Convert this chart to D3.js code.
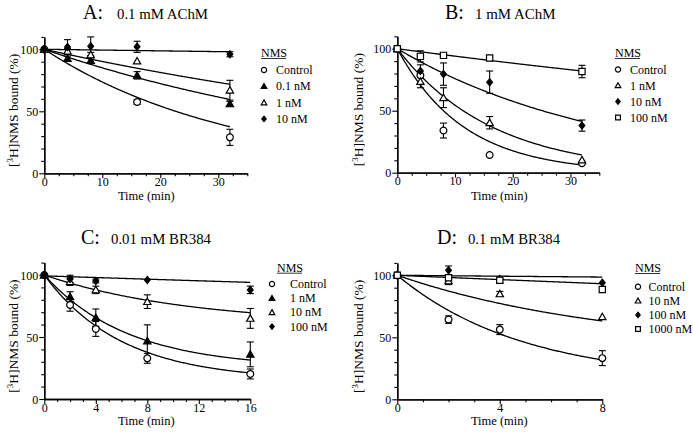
<!DOCTYPE html>
<html><head><meta charset="utf-8">
<script src="https://cdn.jsdelivr.net/npm/d3@7"></script>
<style>
body{margin:0;background:#fff}
svg{display:block}
text{font-family:"Liberation Serif","Times New Roman",serif;fill:#000}
</style>
</head><body>
<svg id="chart" width="693" height="433"></svg>
<script>
// ---------------- DATA ----------------
const yTickLabels = [0, 50, 100];

// Panel A: 0.1 mM AChM
const timesA = [0, 4, 8, 16, 32];
const namesA = ["Control", "0.1 nM", "1 nM", "10 nM"];
const shapesA = ["circle", "triFilled", "triOpen", "diamond"];
const aControl = [100, null, null, 57.5, 29];
const aControlErr = [0, 0, 0, 2, 6.5];
const a01 = [100, 92.5, 91, 79, 56];
const a01Err = [0, 2, 2, 3, 2];
const a1 = [100, 98.5, 95.5, 90.5, 67];
const a1Err = [0, 2, 2, 0, 8];
const a10 = [100, 101.8, 102.5, 102, 96];
const a10Err = [0, 6, 7.5, 4.5, 2];
const fitTopA = [100, 100, 100, 100];
const fitPlateauA = [0, 0, 0, 0];
const fitKA = [0.0306, 0.0162, 0.01035, 0.00063];

// Panel B: 1 mM AChM
const timesB = [0, 4, 8, 16, 32];
const namesB = ["Control", "1 nM", "10 nM", "100 nM"];
const shapesB = ["circle", "triOpen", "diamond", "square"];
const bControl = [100, 78.5, 34, 14.3, 7.6];
const bControlErr = [0, 0, 6, 0, 0];
const b1 = [100, 73.5, 60.5, 40.3, 10.3];
const b1Err = [0, 5, 8, 5, 0];
const b10 = [100, 82, 79.5, 73, 38];
const b10Err = [0, 5, 9, 9, 4.5];
const b100 = [100, 93.8, 94.6, 92.5, 81.6];
const b100Err = [0, 4.5, 0, 0, 5];
const fitTopB = [100, 100, 100, 100];
const fitPlateauB = [0, 0, 0, 0];
const fitKB = [0.0867, 0.0608, 0.0276, 0.0062];

// Panel C: 0.01 mM BR384
const timesC = [0, 2, 4, 8, 16];
const namesC = ["Control", "1 nM", "10 nM", "100 nM"];
const shapesC = ["circle", "triFilled", "triOpen", "diamond"];
const cControl = [100, 75.8, 56.5, 32.8, 20.2];
const cControlErr = [0, 5, 6, 4, 4];
const c1 = [100, 82.5, 65.6, 46.8, 36];
const c1Err = [0, 4, 7, 13, 10];
const c10 = [100, 94.6, 88, 78.5, 65];
const c10Err = [0, 3, 3, 5.5, 8];
const c100 = [100, 96.8, 95.2, 96, 88];
const c100Err = [0, 3, 1.5, 0, 3];
const fitTopC = [100, 100, 100, 99.3];
const fitPlateauC = [15, 25, 60, 0];
const fitKC = [0.1655, 0.1536, 0.0892, 0.0034];

// Panel D: 0.1 mM BR384
const timesD = [0, 2, 4, 8];
const namesD = ["Control", "10 nM", "100 nM", "1000 nM"];
const shapesD = ["circle", "triOpen", "diamond", "square"];
const dControl = [100, 64.3, 56.2, 33.2];
const dControlErr = [0, 3, 4, 6];
const d10 = [100, 95.5, 85, 66.5];
const d10Err = [0, 3, 2, 0];
const d100 = [100, 104, 97, 94];
const d100Err = [0, 3.5, 0, 0];
const d1000 = [100, 98, 96, 88.6];
const d1000Err = [0, 0, 2, 0];
const fitTopD = [100, 100, 100, 100];
const fitPlateauD = [15, 40, 0, 0];
const fitKD = [0.203, 0.119, 0.0088, 0.0018];

// ---------------- LAYOUT ----------------
const panels = [
  {letter: "A:", sub: "0.1 mM AChM", times: timesA, names: namesA, shapes: shapesA,
   values: [aControl, a01, a1, a10], errors: [aControlErr, a01Err, a1Err, a10Err],
   fits: [fitTopA, fitPlateauA, fitKA], xMax: 35, xMajor: [0, 10, 20, 30], xMinorStep: 2.5, tEnd: 32,
   left: 44.3, bottom: 173.3, width: 203,
   titleX: 83, subX: 117, subW: 91, titleY: 19,
   xLabelY: 200, yLabelX: 17.5,
   legX: 261, legSym: 264, legText: 276, legNms: 53, legRow0: 70, legStep: 16.3},
  {letter: "B:", sub: "1 mM AChM", times: timesB, names: namesB, shapes: shapesB,
   values: [bControl, b1, b10, b100], errors: [bControlErr, b1Err, b10Err, b100Err],
   fits: [fitTopB, fitPlateauB, fitKB], xMax: 35, xMajor: [0, 10, 20, 30], xMinorStep: 2.5, tEnd: 32,
   left: 397.3, bottom: 172.7, width: 202,
   titleX: 445, subX: 475, subW: 80.5, titleY: 19,
   xLabelY: 199.5, yLabelX: 362.5,
   legX: 615, legSym: 618, legText: 630, legNms: 53, legRow0: 69.5, legStep: 16},
  {letter: "C:", sub: "0.01 mM BR384", times: timesC, names: namesC, shapes: shapesC,
   values: [cControl, c1, c10, c100], errors: [cControlErr, c1Err, c10Err, c100Err],
   fits: [fitTopC, fitPlateauC, fitKC], xMax: 16, xMajor: [0, 4, 8, 12, 16], xMinorStep: 1, tEnd: 16,
   left: 44.3, bottom: 399, width: 206,
   titleX: 81, subX: 111, subW: 100, titleY: 244,
   xLabelY: 425, yLabelX: 17.5,
   legX: 277, legSym: 272, legText: 290, legNms: 267.7, legRow0: 284, legStep: 14.2},
  {letter: "D:", sub: "0.1 mM BR384", times: timesD, names: namesD, shapes: shapesD,
   values: [dControl, d10, d100, d1000], errors: [dControlErr, d10Err, d100Err, d1000Err],
   fits: [fitTopD, fitPlateauD, fitKD], xMax: 8, xMajor: [0, 4, 8], xMinorStep: 1, tEnd: 8,
   left: 397.3, bottom: 399.3, width: 205,
   titleX: 437, subX: 468, subW: 92, titleY: 244,
   xLabelY: 425, yLabelX: 362.5,
   legX: 635, legSym: 638, legText: 648.5, legNms: 268, legRow0: 286.7, legStep: 14.1}
];

function shapePath(s, r) {
  if (s === "circle") {
    return `M${r},0A${r},${r} 0 1,1 ${-r},0A${r},${r} 0 1,1 ${r},0Z`;
  }
  if (s === "triFilled" || s === "triOpen") {
    const h = r * 1.05;
    return `M0,${-h}L${r * 1.08},${h * 0.8}L${-r * 1.08},${h * 0.8}Z`;
  }
  if (s === "diamond") {
    return `M0,${-r * 1.05}L${r * 0.85},0L0,${r * 1.05}L${-r * 0.85},0Z`;
  }
  if (s === "square") {
    const a = r * 0.92;
    return `M${-a},${-a}H${a}V${a}H${-a}Z`;
  }
}
const isFilled = s => s === "triFilled" || s === "diamond";

const svg = d3.select("#chart");
const PXU = 1.24;

panels.forEach(p => {
  const g = svg.append("g");
  const x = d3.scaleLinear().domain([0, p.xMax]).range([p.left, p.left + p.width]);
  const y = d3.scaleLinear().domain([0, 110]).range([p.bottom, p.bottom - 110 * PXU]);

  // Titles
  g.append("text").attr("x", p.titleX).attr("y", p.titleY)
    .attr("font-size", 20).text(p.letter);
  g.append("text").attr("x", p.subX).attr("y", p.titleY - 0.5)
    .attr("font-size", 14).attr("textLength", p.subW).attr("lengthAdjust", "spacingAndGlyphs")
    .text(p.sub);

  // Axes with minor ticks
  const xMinor = d3.range(0, p.xMax + 1e-6, p.xMinorStep).filter(v => !p.xMajor.some(m => Math.abs(m - v) < 1e-6));
  const yMinor = d3.range(0, 110.1, 10).filter(v => !yTickLabels.includes(v));

  const xAxisMinor = d3.axisBottom(x).tickValues(xMinor).tickSize(3).tickSizeOuter(0).tickFormat("");
  const xAxisMajor = d3.axisBottom(x).tickValues(p.xMajor).tickSize(5).tickSizeOuter(0).tickFormat(d3.format("d"));
  const yAxisMinor = d3.axisLeft(y).tickValues(yMinor).tickSize(3).tickSizeOuter(0).tickFormat("");
  const yAxisMajor = d3.axisLeft(y).tickValues(yTickLabels).tickSize(5).tickSizeOuter(0).tickFormat(d3.format("d"));

  const styleAxis = sel => {
    sel.attr("font-family", null).attr("font-size", null);
    sel.selectAll("path.domain").attr("stroke", "#000").attr("stroke-width", 1.3);
    sel.selectAll("line").attr("stroke", "#000").attr("stroke-width", 1.1);
    sel.selectAll("text").attr("font-size", 12).attr("fill", "#000");
  };
  g.append("g").attr("transform", `translate(0,${p.bottom})`).call(xAxisMinor).call(styleAxis);
  const xa = g.append("g").attr("transform", `translate(0,${p.bottom})`).call(xAxisMajor).call(styleAxis);
  xa.selectAll("text").attr("dy", "0").attr("y", 12.5);
  g.append("g").attr("transform", `translate(${p.left},0)`).call(yAxisMinor).call(styleAxis);
  const ya = g.append("g").attr("transform", `translate(${p.left},0)`).call(yAxisMajor).call(styleAxis);
  ya.selectAll("text").attr("x", -6).attr("dy", "0.34em");

  // Axis labels
  g.append("text").attr("x", p.left + 102).attr("y", p.xLabelY)
    .attr("text-anchor", "middle").attr("font-size", 12.5).text("Time (min)");
  const yl = g.append("text")
    .attr("transform", `translate(${p.yLabelX},${p.bottom - 63}) rotate(-90)`)
    .attr("text-anchor", "middle").attr("font-size", 13.5);
  yl.append("tspan").text("[");
  yl.append("tspan").attr("font-size", 9).attr("dy", -5).text("3");
  yl.append("tspan").attr("dy", 5).text("H]NMS bound (%)");

  // Fit curves
  const line = d3.line().x(d => x(d[0])).y(d => y(d[1]));
  const [tops, plats, ks] = p.fits;
  p.names.forEach((n, i) => {
    const pts = d3.range(0, 201).map(j => {
      const t = p.tEnd * j / 200;
      return [t, plats[i] + (tops[i] - plats[i]) * Math.exp(-ks[i] * t)];
    });
    g.append("path").attr("d", line(pts)).attr("fill", "none")
      .attr("stroke", "#000").attr("stroke-width", 1.3);
  });

  // Error bars
  p.names.forEach((n, i) => {
    const vals = p.values[i], errs = p.errors[i];
    p.times.forEach((t, j) => {
      const v = vals[j], e = errs[j];
      if (v == null || !e) return;
      const cx = x(t);
      g.append("line").attr("x1", cx).attr("x2", cx).attr("y1", y(v - e)).attr("y2", y(v + e))
        .attr("stroke", "#000").attr("stroke-width", 1.1);
      [v - e, v + e].forEach(yy => {
        g.append("line").attr("x1", cx - 3.5).attr("x2", cx + 3.5).attr("y1", y(yy)).attr("y2", y(yy))
          .attr("stroke", "#000").attr("stroke-width", 1.1);
      });
    });
  });
  // Symbols
  p.names.forEach((n, i) => {
    const vals = p.values[i];
    const s = p.shapes[i];
    p.times.forEach((t, j) => {
      const v = vals[j];
      if (v == null) return;
      g.append("path").attr("d", shapePath(s, 3.4))
        .attr("transform", `translate(${x(t)},${y(v)})`)
        .attr("fill", isFilled(s) ? "#000" : "#fff")
        .attr("stroke", "#000").attr("stroke-width", 1.2);
    });
  });

  // Legend
  g.append("text").attr("x", p.legX).attr("y", p.legNms + 4).attr("font-size", 12).text("NMS");
  g.append("line").attr("x1", p.legX).attr("x2", p.legX + 25).attr("y1", p.legNms + 5.5).attr("y2", p.legNms + 5.5)
    .attr("stroke", "#000").attr("stroke-width", 0.8);
  p.names.forEach((n, i) => {
    const cy = p.legRow0 + i * p.legStep;
    const s = p.shapes[i];
    g.append("path").attr("d", shapePath(s, 2.6))
      .attr("transform", `translate(${p.legSym},${cy})`)
      .attr("fill", isFilled(s) ? "#000" : "#fff")
      .attr("stroke", "#000").attr("stroke-width", 1.2);
    g.append("text").attr("x", p.legText).attr("y", cy + 4).attr("font-size", 12).text(n);
  });
});
</script>
</body></html>
